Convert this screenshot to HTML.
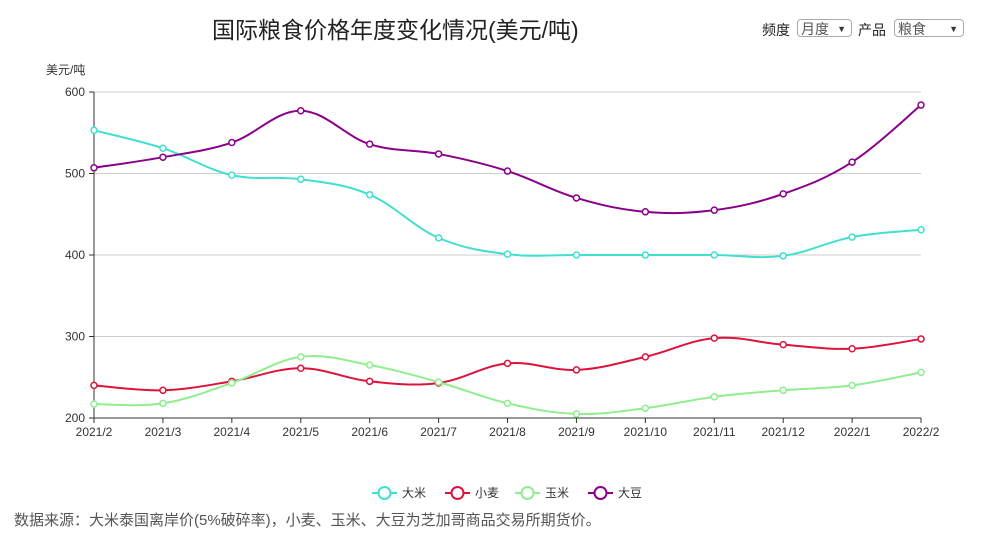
<!DOCTYPE html>
<html><head><meta charset="utf-8"><style>
body{margin:0;width:985px;height:540px;background:#fff;font-family:"Liberation Sans","Noto Sans CJK SC",sans-serif;position:relative;overflow:hidden}
.t{position:absolute;white-space:nowrap}
.sel{position:absolute;top:19px;height:18px;border:1px solid #aaa;border-radius:4px;font-size:14px;line-height:18px;color:#555;padding-left:3px;box-sizing:border-box}
.sel span{position:absolute;right:5px;top:0;font-size:9px;color:#333}
</style></head><body>
<div class="t" style="left:212px;top:11px;font-size:23px;color:#222">国际粮食价格年度变化情况(美元/吨)</div>
<div class="t" style="left:762px;top:20px;font-size:14px;color:#222">频度</div>
<div class="sel" style="left:797px;width:55px">月度<span>▼</span></div>
<div class="t" style="left:858px;top:20px;font-size:14px;color:#222">产品</div>
<div class="sel" style="left:894px;width:70px">粮食<span>▼</span></div>
<div class="t" style="left:46px;top:61px;font-size:12px;color:#333">美元/吨</div>
<div class="t" style="left:14px;top:509px;font-size:15px;color:#555">数据来源：大米泰国离岸价(5%破碎率)，小麦、玉米、大豆为芝加哥商品交易所期货价。</div>
<svg id="s" width="985" height="540" style="position:absolute;left:0;top:0"></svg>
<script>
var s=document.getElementById('s'),h='';
function Y(v){return 418-(v-200)*0.815}
function X(i){return 94+i*68.92}
[200,300,400,500,600].forEach(function(v){var y=Y(v);
h+='<line x1="94" x2="921" y1="'+y+'" y2="'+y+'" stroke="'+(v==200?'#333':'#ccc')+'"/>';
h+='<line x1="89" x2="94" y1="'+y+'" y2="'+y+'" stroke="#333"/>';
h+='<text x="85" y="'+(y+4)+'" font-size="12" fill="#333" text-anchor="end">'+v+'</text>';});
h+='<line x1="94" x2="94" y1="92" y2="418" stroke="#333"/>';
var L=['2021/2','2021/3','2021/4','2021/5','2021/6','2021/7','2021/8','2021/9','2021/10','2021/11','2021/12','2022/1','2022/2'];
L.forEach(function(l,i){h+='<line x1="'+X(i)+'" x2="'+X(i)+'" y1="418" y2="423" stroke="#333"/><text x="'+X(i)+'" y="436" font-size="12" fill="#333" text-anchor="middle">'+l+'</text>';});
var S=[['大米','#40e0d0',[553,531,498,493,474,421,401,400,400,400,399,422,431]],
['小麦','#dc143c',[240,234,245,261,245,243,267,259,275,298,290,285,297]],
['玉米','#90ee90',[217,218,243,275,265,244,218,205,212,226,234,240,256]],
['大豆','#8b008b',[507,520,538,577,536,524,503,470,453,455,475,514,584]]];
S.forEach(function(sr){var p=sr[2].map(function(v,i){return[X(i),Y(v)]});
var d='M'+p[0][0]+','+p[0][1];
for(var i=0;i<p.length-1;i++){var p0=p[i-1]||p[i],p1=p[i],p2=p[i+1],p3=p[i+2]||p2,k=0.18;
d+=' C'+(p1[0]+(p2[0]-p0[0])*k)+','+(p1[1]+(p2[1]-p0[1])*k)+' '+(p2[0]-(p3[0]-p1[0])*k)+','+(p2[1]-(p3[1]-p1[1])*k)+' '+p2[0]+','+p2[1];}
h+='<path d="'+d+'" fill="none" stroke="'+sr[1]+'" stroke-width="2"/>';
p.forEach(function(q){h+='<circle cx="'+q[0]+'" cy="'+q[1]+'" r="3" fill="#fff" stroke="'+sr[1]+'" stroke-width="1.5"/>';});});
var lx=[372,445,515,588];
S.forEach(function(sr,i){var x=lx[i];h+='<line x1="'+x+'" x2="'+(x+25)+'" y1="493" y2="493" stroke="'+sr[1]+'" stroke-width="2"/><circle cx="'+(x+12.5)+'" cy="493" r="6" fill="#fff" stroke="'+sr[1]+'" stroke-width="2"/><text x="'+(x+30)+'" y="497" font-size="12" fill="#333">'+sr[0]+'</text>';});
s.innerHTML=h;
</script>
</body></html>
